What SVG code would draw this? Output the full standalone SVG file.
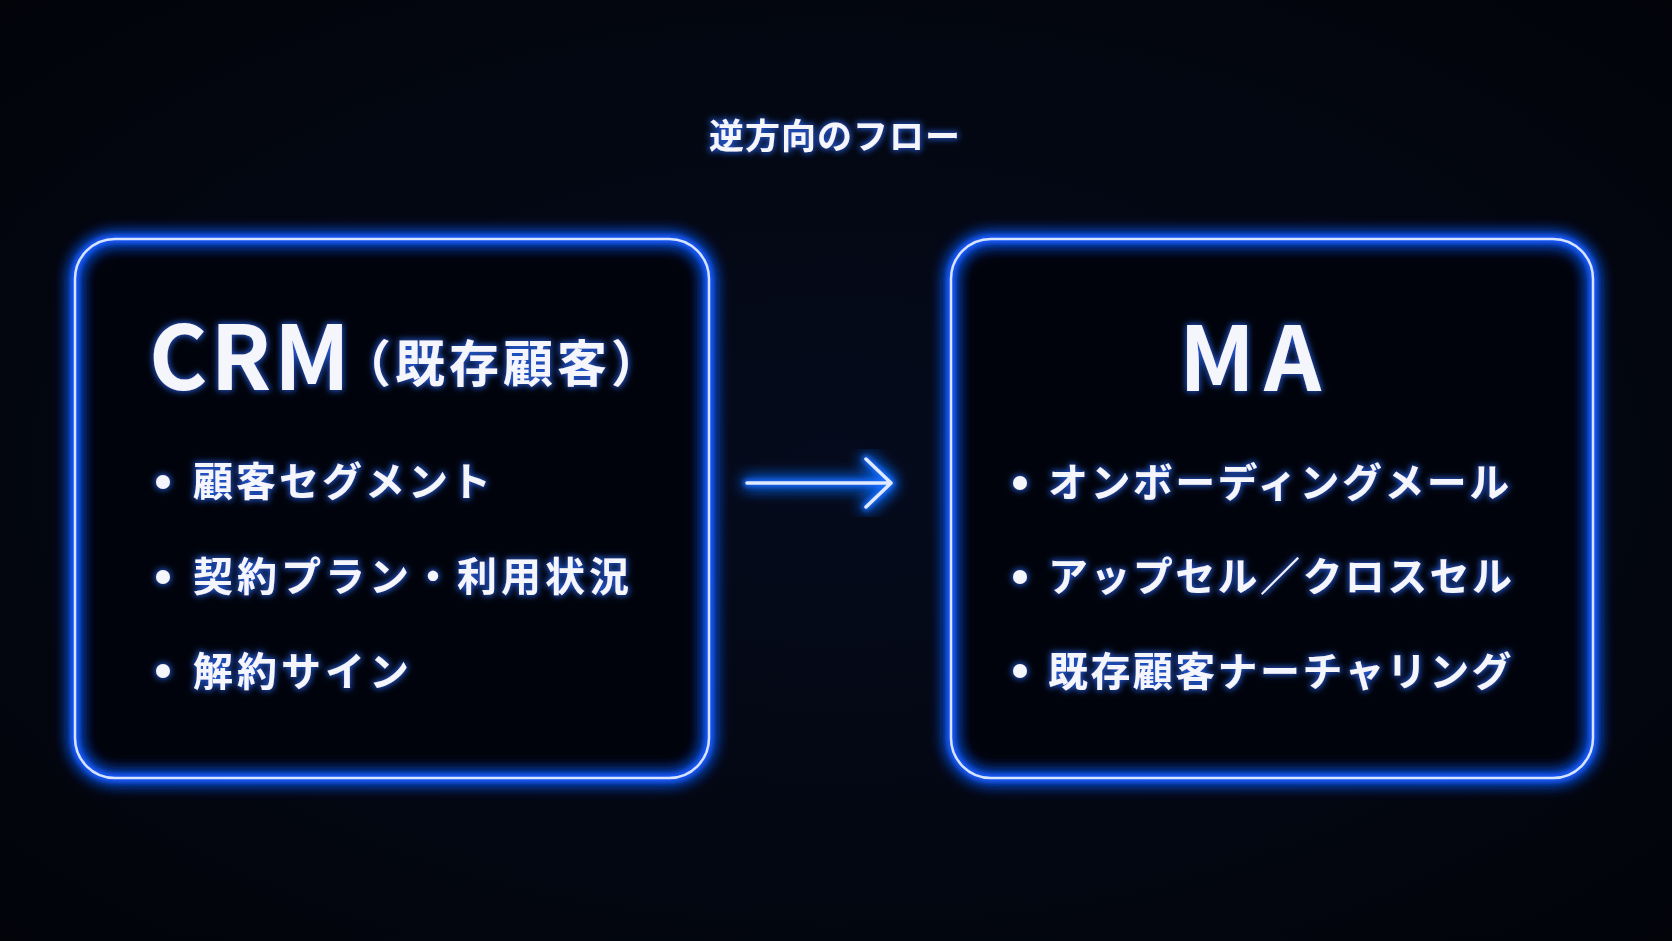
<svg xmlns="http://www.w3.org/2000/svg" width="1672" height="941" viewBox="0 0 1672 941">
<defs>
<radialGradient id="bg" cx="50%" cy="50%" r="70%">
<stop offset="0" stop-color="#050b1c"/>
<stop offset="1" stop-color="#02040a"/>
</radialGradient>
<filter id="glow" x="-20%" y="-20%" width="140%" height="140%">
<feGaussianBlur in="SourceGraphic" stdDeviation="8" result="b1"/>
<feGaussianBlur in="SourceGraphic" stdDeviation="2.5" result="b2"/>
<feMerge><feMergeNode in="b1"/><feMergeNode in="b1"/><feMergeNode in="b2"/></feMerge>
</filter>
<filter id="tglow" x="-10%" y="-30%" width="120%" height="160%">
<feMorphology in="SourceAlpha" operator="dilate" radius="1" result="d"/>
<feGaussianBlur in="d" stdDeviation="3" result="b"/>
<feFlood flood-color="#2a6cff" flood-opacity="0.8"/>
<feComposite in2="b" operator="in" result="g"/>
<feMerge><feMergeNode in="g"/><feMergeNode in="SourceGraphic"/></feMerge>
</filter>
</defs>
<style>
.halo{fill:none;stroke:#1a5cff;stroke-width:8}
.core{fill:none;stroke:#d6e4ff;stroke-width:2.5}
.box{fill:#01030c}
text{font-family:"Noto Sans CJK JP","Noto Sans",sans-serif;fill:#f4f6fb;font-weight:700}
.big{font-size:89px}
.sub{font-size:50px}
.item{font-size:40px}
.dot{fill:#f4f6fb}
</style>
<rect width="1672" height="941" fill="url(#bg)"/>

<g id="title" filter="url(#tglow)">
<text x="835" y="149" text-anchor="middle" letter-spacing="1" style="font-size:35px;font-weight:600">逆方向のフロー</text>
</g>

<g id="crm">
<rect class="box" x="75" y="239" width="634" height="539" rx="40"/>
<rect class="halo" x="75" y="239" width="634" height="539" rx="40" filter="url(#glow)"/>
<rect class="core" x="75" y="239" width="634" height="539" rx="40"/>
<g filter="url(#tglow)">
<text class="big" x="149" y="390" letter-spacing="3">CRM</text>
<text class="sub" x="341" y="382" letter-spacing="4">（既存顧客）</text>
<circle class="dot" cx="163" cy="482" r="7"/>
<circle class="dot" cx="163" cy="577" r="7"/>
<circle class="dot" cx="163" cy="671" r="7"/>
<text class="item" x="193" y="496" letter-spacing="3">顧客セグメント</text>
<text class="item" x="193" y="591" letter-spacing="4">契約プラン・利用状況</text>
<text class="item" x="193" y="686" letter-spacing="4">解約サイン</text>
</g>
</g>

<g id="ma">
<rect class="box" x="951" y="239" width="642" height="539" rx="40"/>
<rect class="halo" x="951" y="239" width="642" height="539" rx="40" filter="url(#glow)"/>
<rect class="core" x="951" y="239" width="642" height="539" rx="40"/>
<g filter="url(#tglow)">
<text class="big" x="1179" y="391" letter-spacing="9">MA</text>
<circle class="dot" cx="1020" cy="483" r="7"/>
<circle class="dot" cx="1020" cy="577" r="7"/>
<circle class="dot" cx="1020" cy="671" r="7"/>
<text class="item" x="1048" y="497" letter-spacing="2.4">オンボーディングメール</text>
<text class="item" x="1048" y="591" letter-spacing="2.4">アップセル／クロスセル</text>
<text class="item" x="1048" y="686" letter-spacing="2.4">既存顧客ナーチャリング</text>
</g>
</g>

<g id="connectors">
<g filter="url(#glow)" stroke="#1a6cff" stroke-width="7" fill="none" stroke-linecap="round" stroke-linejoin="round">
<path d="M747 483 H891 M866 459 L891 483 L866 507"/>
</g>
<g stroke="#dfeaff" stroke-width="3.5" fill="none" stroke-linecap="round" stroke-linejoin="round">
<path d="M747 483 H891 M866 459 L891 483 L866 507"/>
</g>
</g>
</svg>
